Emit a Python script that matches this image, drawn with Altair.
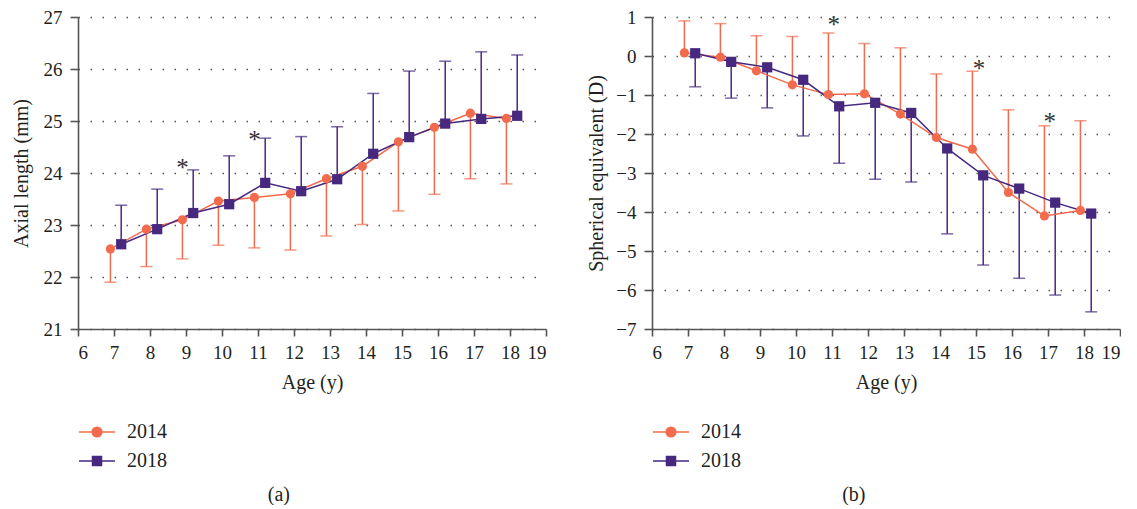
import altair as alt
import pandas as pd

# ---------------- data ----------------
ages = [7, 8, 9, 10, 11, 12, 13, 14, 15, 16, 17, 18]

# (a) Axial length (mm): mean and one-sided SD end
al_2014 = [22.54, 22.92, 23.10, 23.46, 23.53, 23.60, 23.89, 24.13, 24.60, 24.88, 25.15, 25.05]
al_2014_end = [21.90, 22.20, 22.35, 22.61, 22.56, 22.52, 22.79, 23.01, 23.27, 23.59, 23.89, 23.79]
al_2018 = [22.63, 22.92, 23.23, 23.40, 23.81, 23.65, 23.88, 24.37, 24.69, 24.95, 25.04, 25.10]
al_2018_end = [23.38, 23.69, 24.06, 24.33, 24.67, 24.70, 24.89, 25.53, 25.96, 26.15, 26.33, 26.27]

# (b) Spherical equivalent (D)
se_2014 = [0.08, -0.03, -0.38, -0.74, -0.99, -0.97, -1.49, -2.09, -2.39, -3.50, -4.10, -3.96]
se_2014_end = [0.90, 0.83, 0.52, 0.50, 0.59, 0.32, 0.21, -0.46, -0.39, -1.38, -1.79, -1.66]
se_2018 = [0.07, -0.15, -0.29, -0.61, -1.29, -1.20, -1.46, -2.37, -3.06, -3.40, -3.76, -4.04]
se_2018_end = [-0.79, -1.08, -1.33, -2.05, -2.75, -3.16, -3.23, -4.56, -5.36, -5.70, -6.13, -6.56]

# significance markers
a_star_x = [8.9, 10.9]
a_star_y = [24.21, 24.75]
b_star_x = [11.05, 15.08, 17.05]
b_star_y = [0.95, -0.18, -1.54]

series_names = ["2014", "2018"]
x_ticks = list(range(6, 20))
a_y_ticks = list(range(21, 28))
b_y_ticks = list(range(-7, 2))

# ---------------- style ----------------
ORANGE = "#F26B4D"
PURPLE = "#46297F"
FONT = "Liberation Serif"
TXT = "#231F20"

circle_path = "M-1,0L1,0M0.27,0A0.27,0.27,0,1,1,-0.27,0A0.27,0.27,0,1,1,0.27,0Z"
square_path = "M-1,0L1,0M-0.25,-0.25L0.25,-0.25L0.25,0.25L-0.25,0.25Z"


def long_df(m14, e14, m18, e18):
    rows = []
    for a, m, e in zip(ages, m14, e14):
        rows.append({"age": a, "series": "2014", "mean": m, "end": e})
    for a, m, e in zip(ages, m18, e18):
        rows.append({"age": a, "series": "2018", "mean": m, "end": e})
    return pd.DataFrame(rows)


def panel(df, ydomain, yticks, ytitle, sx, sy, caption, ytitle_pad):
    xs = alt.Scale(domain=[6, 19], nice=False, zero=False)
    ys = alt.Scale(domain=ydomain, nice=False, zero=False)
    x_axis = alt.Axis(values=x_ticks, format="d", title="Age (y)", grid=False,
                      tickSize=7, labelPadding=7, titlePadding=10)
    y_axis = alt.Axis(values=yticks, format="d", title=ytitle, grid=True,
                      gridDash=[1.5, 10.5], gridColor="#555", gridWidth=1.3,
                      tickSize=8, labelPadding=8, titlePadding=ytitle_pad)

    base = alt.Chart(df).transform_calculate(
        xpos="datum.age + (datum.series == '2014' ? -0.1 : 0.2)"
    )
    X = alt.X("xpos:Q", scale=xs, axis=x_axis)
    Ym = alt.Y("mean:Q", scale=ys, axis=y_axis)
    Ye = alt.Y("end:Q", scale=ys, axis=y_axis)

    specs = [("2014", ORANGE, "circle", 85), ("2018", PURPLE, "square", 105)]
    bars, lines, pts = [], [], []
    for s, col, shp, sz in specs:
        b = base.transform_filter(f"datum.series == '{s}'")
        bars.append(b.mark_rule(color=col, strokeWidth=1.5).encode(x=X, y=Ym, y2="end:Q"))
        bars.append(b.mark_tick(color=col, orient="horizontal", size=12, thickness=1.5).encode(x=X, y=Ye))
        lines.append(b.mark_line(color=col, strokeWidth=1.5).encode(x=X, y=Ym))
        pts.append(b.mark_point(color=col, shape=shp, filled=True, size=sz, opacity=1).encode(x=X, y=Ym))

    star_df = pd.DataFrame({"sx": sx, "sy": sy, "t": ["*"] * len(sx)})
    stars = alt.Chart(star_df).mark_text(font=FONT, fontSize=25, color="#333",
                                         baseline="alphabetic", dy=14).encode(
        x=alt.X("sx:Q", scale=xs, axis=x_axis),
        y=alt.Y("sy:Q", scale=ys, axis=y_axis),
        text="t:N")

    leg = alt.Legend(title=None, orient="none", legendX=0, legendY=396, direction="vertical",
                     symbolSize=1296, symbolStrokeWidth=1.5, symbolOpacity=1,
                     labelFont=FONT, labelFontSize=20, labelColor=TXT, labelOffset=11,
                     rowPadding=0, padding=0)
    legend_layer = base.mark_point(strokeWidth=1.5, size=0, filled=True).encode(
        x=X, y=Ym,
        fill=alt.Fill("series:N", scale=alt.Scale(domain=series_names, range=[ORANGE, PURPLE]), legend=leg),
        stroke=alt.Stroke("series:N", scale=alt.Scale(domain=series_names, range=[ORANGE, PURPLE]), legend=leg),
        shape=alt.Shape("series:N", scale=alt.Scale(domain=series_names, range=[circle_path, square_path]), legend=leg),
    )

    return alt.layer(*bars, *lines, *pts, stars, legend_layer).properties(
        width=468, height=312,
        title=alt.TitleParams(caption, orient="bottom", anchor="middle", frame="bounds",
                              font=FONT, fontSize=20, fontWeight="normal", color=TXT, offset=14),
    )


left = panel(long_df(al_2014, al_2014_end, al_2018, al_2018_end), [21, 27], a_y_ticks,
             "Axial length (mm)", a_star_x, a_star_y, "(a)", 12)
right = panel(long_df(se_2014, se_2014_end, se_2018, se_2018_end), [-7, 1], b_y_ticks,
              "Spherical equivalent (D)", b_star_x, b_star_y, "(b)", 9)

chart = alt.hconcat(left, right, spacing=39).resolve_scale(
    fill="independent", stroke="independent", shape="independent"
).resolve_legend(
    fill="independent", stroke="independent", shape="independent"
).properties(
    padding={"left": 3, "top": 0, "right": 0, "bottom": 0}
).configure_view(stroke=None).configure_axis(
    domainColor="#555", domainWidth=1.6, tickColor="#555", tickWidth=1.6,
    labelFont=FONT, labelFontSize=19, labelColor=TXT,
    titleFont=FONT, titleFontSize=20, titleFontWeight="normal", titleColor=TXT,
)

chart.save("out.html", embed_options={"renderer": "svg", "actions": False})
